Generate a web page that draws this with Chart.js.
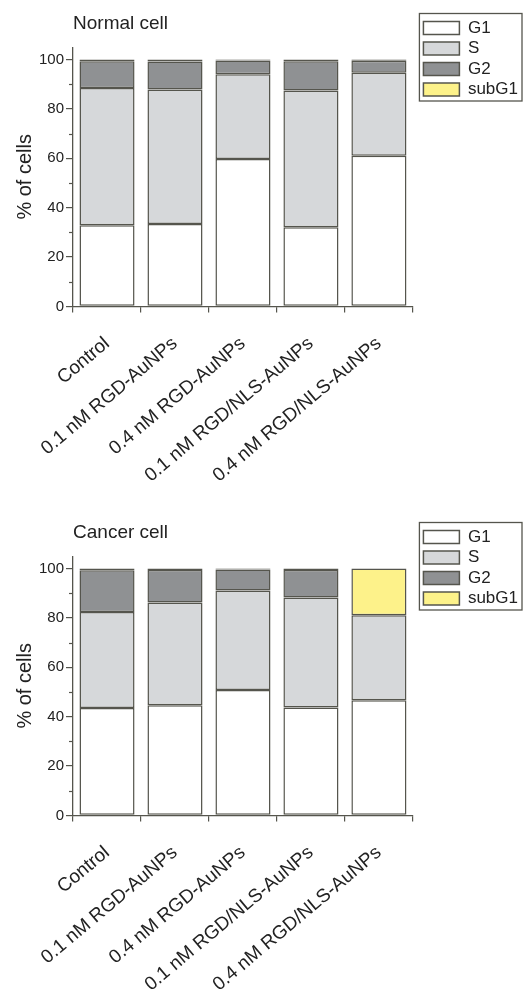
<!DOCTYPE html>
<html>
<head>
<meta charset="utf-8">
<script src="https://cdn.jsdelivr.net/npm/chart.js@4"></script>
<style>
  html, body { margin: 0; padding: 0; background: #fff; overflow: hidden; }
  body { width: 532px; height: 990px; position: relative; }
  .box { position: absolute; left: 0; width: 532px; height: 509px; }
</style>
</head>
<body>
<div class="box" style="top:0"><canvas id="normalChart"></canvas></div>
<div class="box" style="top:509px"><canvas id="cancerChart"></canvas></div>
<script>
const categories = ["Control", "0.1 nM RGD-AuNPs", "0.4 nM RGD-AuNPs", "0.1 nM RGD/NLS-AuNPs", "0.4 nM RGD/NLS-AuNPs"];
const phases = ["G1", "S", "G2", "subG1"];
const phaseColors = ["#ffffff", "#d6d8da", "#8f9193", "#fdf28a"];
const yTicks = [0, 20, 40, 60, 80, 100];
const yMinor = [10, 30, 50, 70, 90];

// normal cell
const normalG1 = [32.9, 33.4, 59.7, 32.1, 61.0];
const normalS = [55.6, 54.5, 34.3, 55.4, 33.7];
const normalG2 = [10.8, 11.3, 5.6, 11.8, 4.8];
const normalSubG1 = [0.7, 0.8, 0.4, 0.7, 0.5];

// cancer cell
const cancerG1 = [43.5, 44.6, 50.8, 43.7, 46.7];
const cancerS = [38.9, 41.6, 40.3, 44.6, 34.4];
const cancerG2 = [16.9, 13.2, 8.5, 11.1, 0];
const cancerSubG1 = [0.7, 0.6, 0.4, 0.6, 18.9];

const fontFamily = "'Liberation Sans', Arial, sans-serif";
const ink = "#222";
const lineColor = "#55554d";
const legendGap = 7;

Chart.defaults.font.family = fontFamily;
Chart.defaults.color = ink;

const extras = {
  id: "extras",
  afterUpdate(chart){
    // push the legend a little away from the plot, as in the original
    const lg = chart.legend;
    lg.left += legendGap;
    lg.right += legendGap;
    lg.legendHitBoxes.forEach(b => { b.left += legendGap; });
  },
  afterDraw(chart){
    const ctx = chart.ctx;
    const y = chart.scales.y;
    ctx.save();
    ctx.strokeStyle = lineColor;
    ctx.lineWidth = 1.2;
    yMinor.forEach(v => {
      const py = Math.round(y.getPixelForValue(v)) + 0.5;
      ctx.beginPath();
      ctx.moveTo(y.right - 4, py);
      ctx.lineTo(y.right, py);
      ctx.stroke();
    });
    // frame round the legend
    const boxes = chart.legend.legendHitBoxes;
    const first = boxes[0], last = boxes[boxes.length - 1];
    const left = first.left - 4;
    const top = first.top - 6;
    const right = Math.max(...boxes.map(b => b.left + b.width)) + 4;
    const bottom = last.top + last.height + 3;
    ctx.lineWidth = 1.3;
    ctx.strokeRect(left, top, right - left, bottom - top);
    ctx.restore();
  }
};

function makeChart(id, title, series){
  new Chart(document.getElementById(id), {
    type: "bar",
    data: {
      labels: categories,
      datasets: phases.map((p, i) => ({
        label: p,
        data: series[i],
        backgroundColor: phaseColors[i],
        borderColor: lineColor,
        borderWidth: 1.5,
        borderSkipped: false,
        barPercentage: 0.81,
        categoryPercentage: 1
      }))
    },
    options: {
      responsive: true,
      maintainAspectRatio: false,
      animation: false,
      layout: { padding: { left: 13, right: 11, top: 16, bottom: 2 } },
      plugins: {
        tooltip: { enabled: false },
        title: {
          display: true,
          text: title,
          align: "start",
          fullSize: false,
          color: ink,
          font: { size: 19, weight: "normal", lineHeight: 0.8 },
          padding: { top: 0, bottom: 16 }
        },
        legend: {
          position: "right",
          align: "start",
          labels: {
            boxWidth: 36,
            boxHeight: 13,
            padding: 3.5,
            color: ink,
            font: { size: 17 }
          }
        }
      },
      scales: {
        x: {
          stacked: true,
          grid: { drawOnChartArea: false, tickLength: 6, color: lineColor, lineWidth: 1.2 },
          border: { color: lineColor, width: 1.3 },
          ticks: {
            autoSkip: false,
            minRotation: 40,
            maxRotation: 40,
            padding: 20,
            color: ink,
            font: { size: 19 }
          }
        },
        y: {
          stacked: true,
          min: 0,
          max: 105,
          afterBuildTicks: s => { s.ticks = yTicks.map(v => ({ value: v })); },
          grid: { drawOnChartArea: false, tickLength: 7, color: lineColor, lineWidth: 1.2 },
          border: { color: lineColor, width: 1.3 },
          ticks: { padding: 2, color: ink, font: { size: 15 } },
          title: {
            display: true,
            text: "% of cells",
            color: ink,
            font: { size: 20 },
            padding: 0
          }
        }
      }
    },
    plugins: [extras]
  });
}

makeChart("normalChart", "Normal cell", [normalG1, normalS, normalG2, normalSubG1]);
makeChart("cancerChart", "Cancer cell", [cancerG1, cancerS, cancerG2, cancerSubG1]);
</script>
</body>
</html>
